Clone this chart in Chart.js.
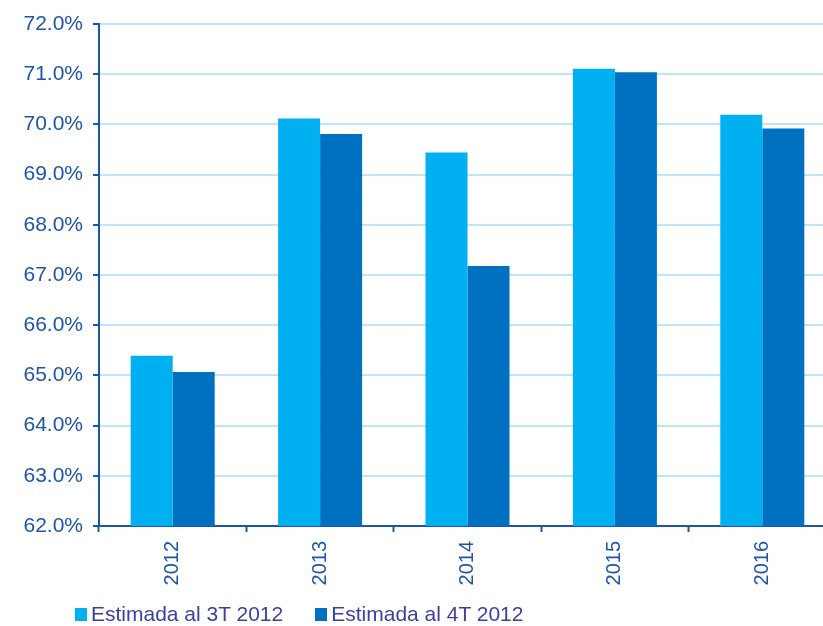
<!DOCTYPE html>
<html>
<head>
<meta charset="utf-8">
<script src="https://cdn.jsdelivr.net/npm/chart.js@4"></script>
<style>
  html, body { margin: 0; padding: 0; background: #fff; overflow: hidden; }
  #wrap { position: relative; width: 840px; height: 626px; }
  #legend { position: absolute; left: 75px; top: 602px; font-family: "Liberation Sans", Arial, sans-serif; font-size: 21px; color: #3b3f9f; white-space: nowrap; }
  #legend span.item { display: inline-block; margin-right: 32px; }
  #legend i { display: inline-block; width: 12px; height: 13px; margin-right: 4px; vertical-align: 0px; }
</style>
</head>
<body>
<div id="wrap">
  <canvas id="grafico" width="840" height="626"></canvas>
  <div id="legend"></div>
</div>
<script>
// datos
const anos = ['2012', '2013', '2014', '2015', '2016'];
const estimada3T = [65.39, 70.12, 69.44, 71.11, 70.19];
const estimada4T = [65.07, 69.81, 67.18, 71.04, 69.92];
const nombresSeries = ['Estimada al 3T 2012', 'Estimada al 4T 2012'];
const coloresSeries = ['#00b0f0', '#0070c0'];

const azulEje = '#1f55a5';
const azulTexto = '#1d56a6';
const familia = '"Liberation Sans", Arial, sans-serif';

const ctx = document.getElementById('grafico').getContext('2d');
const chart = new Chart(ctx, {
    type: 'bar',
    data: {
        labels: anos,
        datasets: [
            { label: nombresSeries[0], data: estimada3T, backgroundColor: coloresSeries[0] },
            { label: nombresSeries[1], data: estimada4T, backgroundColor: coloresSeries[1] }
        ]
    },
    options: {
        responsive: false,
        animation: false,
        layout: { padding: { top: 24, right: 4, bottom: 0, left: 0 } },
        datasets: { bar: { categoryPercentage: 0.57, barPercentage: 1 } },
        plugins: {
            legend: { display: false },
            tooltip: { enabled: false }
        },
        scales: {
            x: {
                afterFit: s => { s.height = 100; },
                border: { color: azulEje, width: 2 },
                grid: { display: true, drawOnChartArea: false, tickColor: azulEje, tickLength: 6, tickWidth: 2, offset: true },
                ticks: { color: azulTexto, font: { family: familia, size: 20 }, maxRotation: 90, minRotation: 90, padding: 9 }
            },
            y: {
                min: 62,
                max: 72,
                afterFit: s => { s.width = 99; },
                border: { color: azulEje, width: 2 },
                grid: { color: '#bfe6f7', lineWidth: 2, tickColor: azulEje, tickLength: 6, tickWidth: 2 },
                ticks: {
                    stepSize: 1,
                    color: azulTexto,
                    font: { family: familia, size: 21 },
                    padding: 10,
                    callback: function(value) {
                        return value.toFixed(1) + '%';
                    }
                }
            }
        }
    }
});

// leyenda abajo a la izquierda
const legend = document.getElementById('legend');
nombresSeries.forEach((nombre, i) => {
    const item = document.createElement('span');
    item.className = 'item';
    item.innerHTML = `<i style="background:${coloresSeries[i]}"></i>${nombre}`;
    legend.appendChild(item);
});
</script>
</body>
</html>
